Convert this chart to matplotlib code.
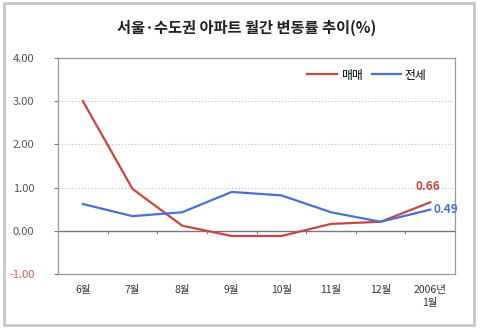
import matplotlib
matplotlib.use('Agg')
import matplotlib.pyplot as plt
from matplotlib.patches import Rectangle

plt.rcParams['font.family'] = ['Noto Sans CJK KR', 'DejaVu Sans']

months = ['6월', '7월', '8월', '9월', '10월', '11월', '12월', '2006년\n1월']
sale = [3.00, 0.97, 0.12, -0.12, -0.12, 0.16, 0.21, 0.66]      # 매매
jeonse = [0.62, 0.34, 0.43, 0.90, 0.82, 0.43, 0.21, 0.49]     # 전세
yticks = [-1, 0, 1, 2, 3, 4]

red = '#c8463f'
blue = '#4a6fd6'

fig = plt.figure(figsize=(4.8, 3.33), dpi=100)
fig.patch.set_facecolor('white')
# outer chart frame
fig.patches.append(Rectangle((0.008, 0.025), 0.98, 0.965, transform=fig.transFigure,
                             fill=False, edgecolor='#c8c8c8', linewidth=2))

ax = fig.add_axes([0.121, 0.177, 0.827, 0.649])
x = list(range(len(months)))
ax.plot(x, sale, color=red, lw=1.6, label='매매')
ax.plot(x, jeonse, color=blue, lw=1.6, label='전세')

ax.set_xlim(-0.5, len(months) - 0.5)
ax.set_ylim(-1, 4)
ax.set_yticks(yticks)
ax.set_yticklabels(['%.2f' % v for v in yticks], fontsize=8, color='#555555')
ax.get_yticklabels()[0].set_color('#e05050')
for v in [1, 2, 3]:
    ax.axhline(v, color='#bbbbbb', lw=0.8, ls=(0, (1, 2)), zorder=0)
ax.axhline(0, color='#777777', lw=1.0, zorder=1)

ax.set_xticks(x)
ax.set_xticklabels(months, fontsize=7.5, color='#333333', linespacing=1.3)
ax.tick_params(axis='x', length=0, pad=8)
ax.tick_params(axis='y', length=3, color='#777777', direction='out', pad=14)
# category boundary ticks on the zero line
for b in range(1, len(months)):
    ax.plot([b - 0.5, b - 0.5], [-0.06, 0.0], color='#777777', lw=0.8)

for s in ax.spines.values():
    s.set_color('#999999')
    s.set_linewidth(0.9)

ax.annotate('%.2f' % sale[-1], (x[-1], sale[-1]), xytext=(-2, 9), textcoords='offset points',
            color=red, fontsize=8.5, fontweight='bold', ha='center')
ax.annotate('%.2f' % jeonse[-1], (x[-1], jeonse[-1]), xytext=(2, 0), textcoords='offset points',
            color=blue, fontsize=8.5, fontweight='bold', ha='left', va='center', annotation_clip=False)

ax.legend(loc='upper right', bbox_to_anchor=(0.955, 1.0), ncol=2, frameon=False,
          fontsize=8.5, handlelength=2.5, columnspacing=0.8, handletextpad=0.3)

fig.text(0.513, 0.915, '서울·수도권 아파트 월간 변동률 추이(%)', ha='center', va='center',
         fontsize=11, fontweight='bold', color='#222222')

fig.savefig('out.png', dpi=100)
